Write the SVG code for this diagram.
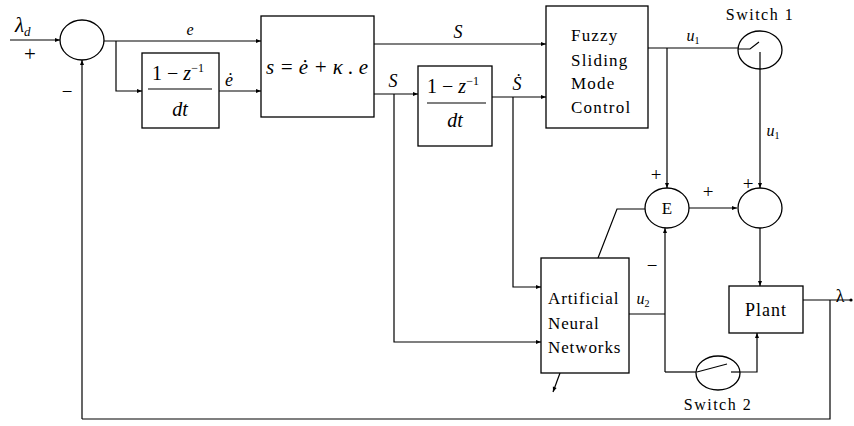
<svg xmlns="http://www.w3.org/2000/svg" width="854" height="426" viewBox="0 0 854 426">
<style>
.ln{fill:none;stroke:#000;stroke-width:1.2}
.bx{fill:#fff;stroke:#000;stroke-width:1.3}
.t{font-family:"Liberation Serif","Times New Roman",serif;fill:#000}
.it{font-style:italic}
.up{font-style:normal}
.arr{marker-end:url(#ah)}
</style>
<defs>
<marker id="ah" viewBox="0 0 10 10" refX="10" refY="5" markerWidth="7" markerHeight="5" orient="auto" markerUnits="userSpaceOnUse">
<path d="M0,1 L10,5 L0,9 Z" fill="#000"/>
</marker>
</defs>
<rect width="854" height="426" fill="#fff"/>

<g id="connectors">
<path class="ln arr" d="M10,40 H60"/>
<path class="ln arr" d="M82,419 V60"/>
<path class="ln" d="M830,300 V419 H82"/>
<path class="ln arr" d="M104,41 H261"/>
<path class="ln arr" d="M116,41 V91 H142"/>
<path class="ln arr" d="M219,91 H261"/>
<path class="ln arr" d="M374,44 H546"/>
<path class="ln arr" d="M374,94 H418"/>
<path class="ln arr" d="M394,94 V342 H541"/>
<path class="ln arr" d="M492,97 H546"/>
<path class="ln arr" d="M513,97 V287 H541"/>
<path class="ln" d="M648,48 H738"/>
<path class="ln arr" d="M667,48 V188"/>
<path class="ln arr" d="M760,52 V188"/>
<path class="ln arr" d="M689,208 H737"/>
<path class="ln arr" d="M760,227 V286"/>
<path class="ln" d="M598,258 L617,209 H645"/>
<path class="ln" d="M629,314 H665"/>
<path class="ln arr" d="M665,372 V228"/>
<path class="ln" d="M665,372 H697"/>
<path class="ln arr" d="M731,372 H757 V333"/>
<path class="ln" d="M803,300 H850"/>
<circle cx="851" cy="300" r="1.6" fill="#000"/>
<path class="ln arr" d="M560,373 L553,392"/>
</g>

<g id="sum1">
<ellipse class="bx" cx="82" cy="40" rx="22" ry="20"/>
</g>
<text class="t it" x="15" y="32" font-size="21">λ<tspan font-size="13" dy="4">d</tspan></text>
<text class="t" x="30" y="61" font-size="21" text-anchor="middle">+</text>
<text class="t" x="67" y="98" font-size="19" text-anchor="middle">−</text>

<g id="deriv1">
<rect class="bx" x="142" y="53" width="77" height="75"/>
<text class="t" x="178" y="80" font-size="20" text-anchor="middle">1 − <tspan class="it">z</tspan><tspan font-size="12" dy="-8">−1</tspan></text>
<path class="ln" d="M148,89 H212"/>
<text class="t it" x="180" y="116" font-size="20" text-anchor="middle">dt</text>
</g>
<text class="t it" x="190" y="35" font-size="16" text-anchor="middle">e</text>
<text class="t it" x="229" y="86" font-size="18" text-anchor="middle">ė</text>

<g id="slide">
<rect class="bx" x="261" y="16" width="113" height="101"/>
<text class="t it" x="317" y="74" font-size="21" text-anchor="middle">s = ė + κ . e</text>
</g>
<text class="t it" x="458" y="38" font-size="18" text-anchor="middle">S</text>
<text class="t it" x="393" y="87" font-size="18" text-anchor="middle">S</text>

<g id="deriv2">
<rect class="bx" x="418" y="66" width="74" height="80"/>
<text class="t" x="453" y="93" font-size="20" text-anchor="middle">1 − <tspan class="it">z</tspan><tspan font-size="12" dy="-8">−1</tspan></text>
<path class="ln" d="M427,103 H486"/>
<text class="t it" x="455" y="127" font-size="20" text-anchor="middle">dt</text>
</g>
<text class="t it" x="517" y="90" font-size="18" text-anchor="middle">Ṡ</text>

<g id="fsmc">
<rect class="bx" x="546" y="6" width="102" height="122"/>
<text class="t" x="571" y="41" font-size="17" letter-spacing="1.2">Fuzzy</text>
<text class="t" x="571" y="66" font-size="17" letter-spacing="1.2">Sliding</text>
<text class="t" x="571" y="89" font-size="17" letter-spacing="1.2">Mode</text>
<text class="t" x="571" y="113" font-size="17" letter-spacing="1.2">Control</text>
</g>
<text class="t it" x="693" y="41" font-size="16" text-anchor="middle">u<tspan class="up" font-size="10" dy="3">1</tspan></text>

<g id="switch1">
<ellipse class="bx" cx="760" cy="50" rx="22" ry="19"/>
<path class="ln" d="M738,49 H750 L759,42"/>
<path class="ln" d="M760,52 V69"/>
<text class="t" x="760" y="20" font-size="16" text-anchor="middle" letter-spacing="1.5">Switch 1</text>
</g>
<text class="t it" x="773" y="136" font-size="16" text-anchor="middle">u<tspan class="up" font-size="10" dy="3">1</tspan></text>

<g id="E">
<ellipse class="bx" cx="667" cy="208" rx="22" ry="20"/>
<text class="t" x="667" y="214" font-size="17" text-anchor="middle">E</text>
</g>
<text class="t" x="656" y="181" font-size="19" text-anchor="middle">+</text>
<text class="t" x="708" y="198" font-size="19" text-anchor="middle">+</text>
<text class="t" x="652" y="272" font-size="19" text-anchor="middle">−</text>

<g id="sum2">
<ellipse class="bx" cx="760" cy="208" rx="22" ry="20"/>
</g>
<text class="t" x="748" y="190" font-size="19" text-anchor="middle">+</text>

<g id="ann">
<rect class="bx" x="541" y="258" width="88" height="115"/>
<text class="t" x="548" y="304" font-size="17" letter-spacing="0.9">Artificial</text>
<text class="t" x="548" y="329" font-size="17" letter-spacing="0.9">Neural</text>
<text class="t" x="548" y="353" font-size="17" letter-spacing="0.9">Networks</text>
</g>
<text class="t it" x="643" y="304" font-size="16" text-anchor="middle">u<tspan class="up" font-size="10" dy="3">2</tspan></text>

<g id="plant">
<rect class="bx" x="729" y="286" width="74" height="47"/>
<text class="t" x="766" y="316" font-size="18" text-anchor="middle" letter-spacing="1">Plant</text>
</g>
<text class="t" x="840" y="302" font-size="18" text-anchor="middle">λ</text>

<g id="switch2">
<ellipse class="bx" cx="718" cy="373" rx="22" ry="17"/>
<path class="ln" d="M697,372 L727,364"/>
<path class="ln" d="M731,372 H740"/>
<text class="t" x="718" y="410" font-size="16" text-anchor="middle" letter-spacing="1.5">Switch 2</text>
</g>
</svg>
